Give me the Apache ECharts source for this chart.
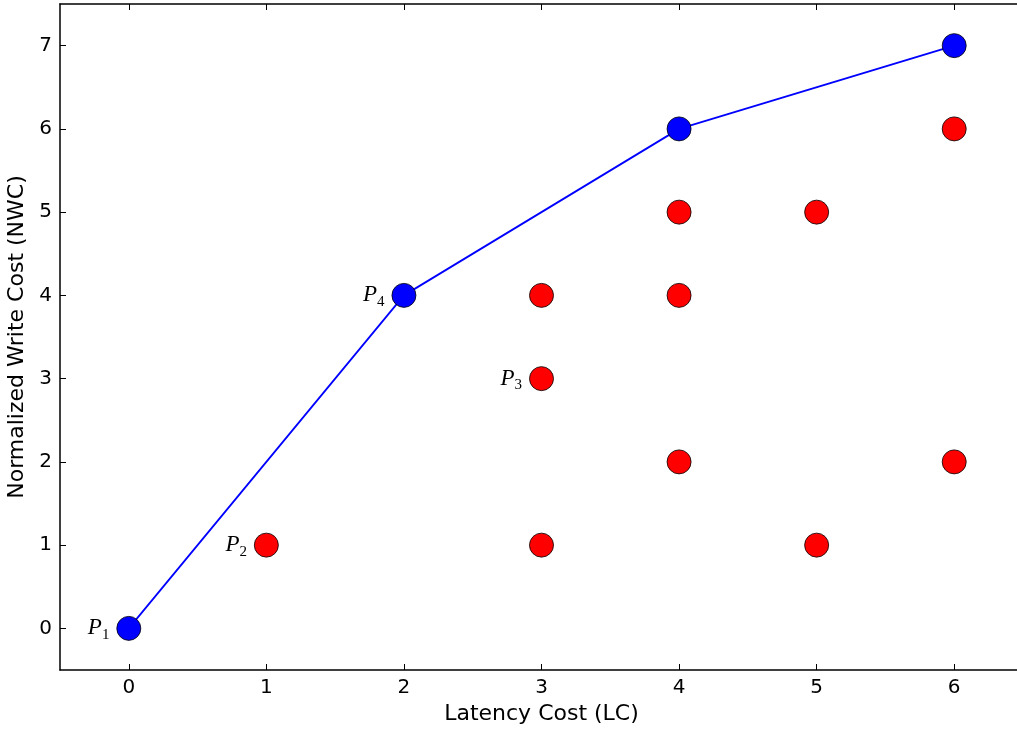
<!DOCTYPE html>
<html>
<head>
<meta charset="utf-8">
<script src="https://cdn.jsdelivr.net/npm/echarts@6/dist/echarts.min.js"></script>
<style>
html,body{margin:0;padding:0;background:#fff;}
#chart{width:1017px;height:729px;}
</style>
</head>
<body>
<div id="chart"></div>
<script>
// 帕累托前沿上的点
var frontX = [0, 2, 4, 6];
var frontY = [0, 4, 6, 7];
var frontLabel = ['1', '4', '', ''];
// 其余点
var otherX = [1, 3, 3, 3, 4, 4, 4, 5, 5, 6, 6];
var otherY = [1, 1, 3, 4, 2, 4, 5, 1, 5, 2, 6];
var otherLabel = ['2', '', '3', '', '', '', '', '', '', '', ''];
var xTicks = [0, 1, 2, 3, 4, 5, 6];
var yTicks = [0, 1, 2, 3, 4, 5, 6, 7];

function pts(xs, ys, labs) {
	var out = [];
	for (var i = 0; i < xs.length; i++) {
		out.push({ value: [xs[i], ys[i]], sub: labs[i] });
	}
	return out;
}

var ptLabel = {
	show: true,
	position: 'left',
	distance: 7,
	formatter: function (p) {
		return p.data.sub ? '{p|P}{s|' + p.data.sub + '}' : '';
	},
	rich: {
		p: { fontFamily: 'Liberation Serif', fontStyle: 'italic', fontSize: 23, color: '#000' },
		s: { fontFamily: 'Liberation Serif', fontSize: 15, color: '#000', verticalAlign: 'bottom', padding: [13, 0, 0, 0] }
	}
};

var nameFont = { fontFamily: 'DejaVu Sans', fontSize: 22, color: '#000' };
var frameLine = { show: true, onZero: false, lineStyle: { color: '#000', width: 1.5 } };

function ticks(vals) {
	return { show: true, inside: true, length: 6, lineStyle: { color: '#000' }, customValues: vals };
}

var myChart = echarts.init(document.getElementById('chart'));
var option = {
	backgroundColor: '#fff',
	animation: false,
	grid: { left: 60, top: 4, width: 963, height: 666, containLabel: false, outerBoundsMode: 'none' },
	xAxis: [
		{
			type: 'value', min: -0.5, max: 6.5,
			name: 'Latency Cost (LC)', nameLocation: 'middle', nameGap: 33,
			nameTextStyle: nameFont,
			axisLine: frameLine,
			axisTick: ticks(xTicks),
			axisLabel: { margin: 8, customValues: xTicks, fontFamily: 'DejaVu Sans', fontSize: 20, color: '#000' },
			splitLine: { show: false }
		},
		{
			type: 'value', min: -0.5, max: 6.5, position: 'top',
			axisLine: frameLine,
			axisTick: ticks(xTicks),
			axisLabel: { show: false },
			splitLine: { show: false }
		}
	],
	yAxis: [
		{
			type: 'value', min: -0.5, max: 7.5,
			name: 'Normalized Write Cost (NWC)', nameLocation: 'middle', nameGap: 29,
			nameTextStyle: nameFont,
			axisLine: frameLine,
			axisTick: ticks(yTicks),
			axisLabel: { margin: 8, customValues: yTicks, fontFamily: 'DejaVu Sans', fontSize: 20, color: '#000' },
			splitLine: { show: false }
		},
		{
			type: 'value', min: -0.5, max: 7.5, position: 'right',
			axisLine: frameLine,
			axisTick: ticks(yTicks),
			axisLabel: { show: false },
			splitLine: { show: false }
		}
	],
	series: [
		{
			name: 'front',
			type: 'line',
			data: pts(frontX, frontY, frontLabel),
			symbol: 'circle',
			symbolSize: 24,
			lineStyle: { color: '#0000ff', width: 1.8 },
			itemStyle: { color: '#0000ff', borderColor: '#000', borderWidth: 0.8 },
			label: ptLabel,
			z: 3
		},
		{
			name: 'other',
			type: 'scatter',
			data: pts(otherX, otherY, otherLabel),
			symbol: 'circle',
			symbolSize: 24,
			itemStyle: { color: '#ff0000', borderColor: '#000', borderWidth: 0.8, opacity: 1 },
			label: ptLabel,
			z: 2
		}
	]
};
myChart.setOption(option);
</script>
</body>
</html>
